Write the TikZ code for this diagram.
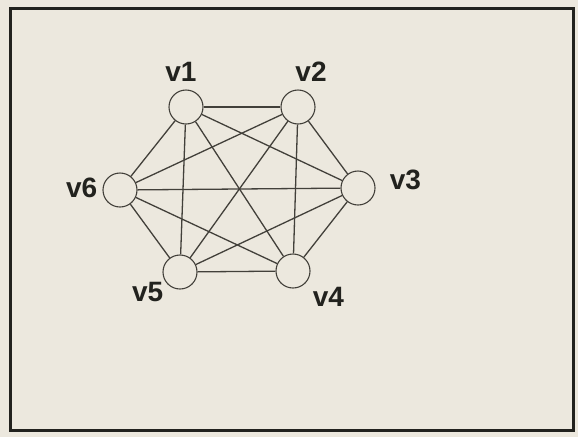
\documentclass[tikz,border=0pt]{standalone}
\usepackage{fontspec}
\setmainfont{Liberation Sans}
\definecolor{PaperBeige}{RGB}{236,232,222}
\definecolor{InkGray}{RGB}{66,64,58}
\definecolor{InkDark}{RGB}{34,34,30}
\usetikzlibrary{positioning}

\begin{document}
\begin{tikzpicture}[x=1pt, y=-1pt,
    every node/.style={font=\fontsize{28}{32}\selectfont\bfseries, text=InkDark},
    vert/.style={draw=InkGray, circle, minimum size=34pt, inner sep=0pt, line width=1.1pt, fill=PaperBeige},
    lbl/.style={inner sep=0pt},
    edge/.style={draw=InkGray, line width=1.3pt}
  ]
    % page and frame
    \fill[PaperBeige] (0,0) rectangle (578,437);
    \useasboundingbox (0,0) rectangle (578,437);
    \draw[InkDark, line width=3pt] (10,8) rectangle (573.5,430);

    \node[vert] (v1) at (186,107) {};
    \node[vert] (v2) at (298,107) {};
    \node[vert] (v3) at (358,188) {};
    \node[vert] (v4) at (293,271) {};
    \node[vert] (v5) at (180,272) {};
    \node[vert] (v6) at (120,190) {};

    \node[lbl, above=7.5pt of v1, xshift=-5pt] (l1) {v1};
    \node[lbl, above=7.5pt of v2, xshift=13pt] (l2) {v2};
    \node[lbl, right=14pt of v3, yshift=8pt] (l3) {v3};
    \node[lbl, right=2pt of v4, yshift=-26pt] (l4) {v4};
    \node[lbl, left=-1pt of v5, yshift=-20pt] (l5) {v5};
    \node[lbl, left=5pt of v6, yshift=2pt] (l6) {v6};

    \draw[edge] (v1) -- (v2);
    \draw[edge] (v1) -- (v3);
    \draw[edge] (v1) -- (v4);
    \draw[edge] (v1) -- (v5);
    \draw[edge] (v1) -- (v6);
    \draw[edge] (v2) -- (v3);
    \draw[edge] (v2) -- (v4);
    \draw[edge] (v2) -- (v5);
    \draw[edge] (v2) -- (v6);
    \draw[edge] (v3) -- (v4);
    \draw[edge] (v3) -- (v5);
    \draw[edge] (v3) -- (v6);
    \draw[edge] (v4) -- (v5);
    \draw[edge] (v4) -- (v6);
    \draw[edge] (v5) -- (v6);
  \end{tikzpicture}
\end{document}
